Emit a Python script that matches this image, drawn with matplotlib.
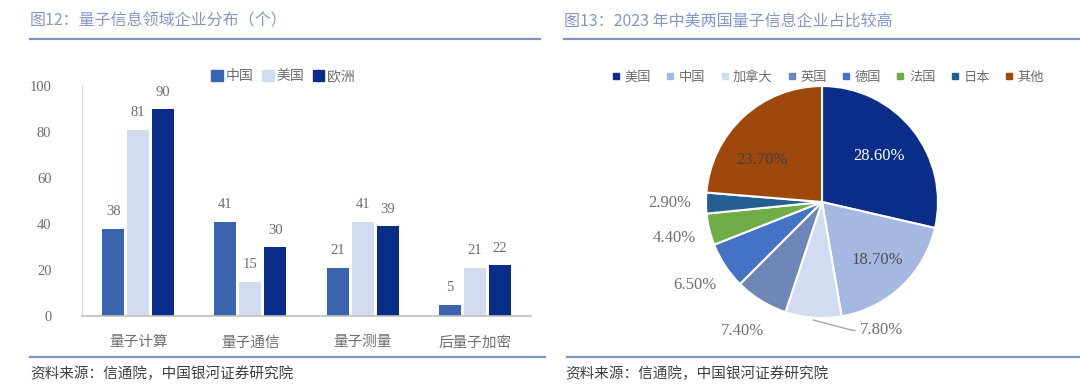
import numpy as np
import matplotlib
matplotlib.use("Agg")
import matplotlib.pyplot as plt
from matplotlib.lines import Line2D
from matplotlib.patches import Patch

plt.rcParams['font.family'] = ['Noto Sans CJK SC', 'DejaVu Sans']

# left chart data
categories = ['量子计算', '量子通信', '量子测量', '后量子加密']
series_names = ['中国', '美国', '欧洲']
china = [38, 41, 21, 5]
usa = [81, 15, 41, 21]
europe = [90, 30, 39, 22]

# right chart data
pie_labels = ['美国', '中国', '加拿大', '英国', '德国', '法国', '日本', '其他']
pie_values = [28.6, 18.7, 7.8, 7.4, 6.5, 4.4, 2.9, 23.7]

W, H = 1080, 388
fig = plt.figure(figsize=(W / 100, H / 100), dpi=100)
fig.patch.set_facecolor('white')


def box(x0, y0, x1, y1):
    return [x0 / W, 1 - y1 / H, (x1 - x0) / W, (y1 - y0) / H]


def fx(x):
    return x / W


def fy(y):
    return 1 - y / H


title_c = '#8497C4'
rule_c = '#7F93BF'
gray = '#6E6E6E'
serif = ['Liberation Serif', 'Noto Sans CJK SC']

# titles, rules and footers
fig.text(fx(30), fy(21), '图12：量子信息领域企业分布（个）', fontsize=11.5, color=title_c, va='center')
fig.text(fx(564), fy(21), '图13：2023 年中美两国量子信息企业占比较高', fontsize=11.5, color=title_c, va='center')
for x0, x1 in [(30, 540), (564, 1080)]:
    fig.add_artist(Line2D([fx(x0), fx(x1)], [fy(39), fy(39)], color=rule_c, lw=1.6))
for x0, x1 in [(30, 545), (567, 1080)]:
    fig.add_artist(Line2D([fx(x0), fx(x1)], [fy(357), fy(357)], color=rule_c, lw=1.6))
fig.text(fx(30), fy(374), '资料来源：信通院，中国银河证券研究院', fontsize=10.5, color='#404040', va='center')
fig.text(fx(565), fy(374), '资料来源：信通院，中国银河证券研究院', fontsize=10.5, color='#404040', va='center')

# ---- bar chart ----
ax = fig.add_axes(box(82, 86, 531, 316))
colors = ['#3A64AE', '#D0DCEF', '#0B2D8A']
x = np.arange(len(categories))
bw = 0.195
offs = [-0.223, 0, 0.223]
for vals, c, o, name in zip([china, usa, europe], colors, offs, series_names):
    bars = ax.bar(x + o, vals, bw, color=c, label=name)
    for b, v in zip(bars, vals):
        ax.text(b.get_x() + b.get_width() / 2, v + 4.5, str(v), ha='center', va='bottom',
                fontsize=10.5, color=gray, family=serif)
ax.set_xlim(-0.5, 3.5)
ax.set_ylim(0, 100)
ax.set_yticks(range(0, 101, 20))
ax.set_yticklabels([str(v) for v in range(0, 101, 20)], family=serif, fontsize=10.5, color=gray)
ax.set_xticks(x)
ax.set_xticklabels(categories, fontsize=10.5, color=gray)
ax.tick_params(axis='both', length=0)
ax.tick_params(axis='y', pad=22)
ax.tick_params(axis='x', pad=14)
for s in ['top', 'right']:
    ax.spines[s].set_visible(False)
ax.spines['left'].set_color('#D9D9D9')
ax.spines['bottom'].set_color('#BFBFBF')
ax.spines['bottom'].set_linewidth(1.2)
handles = [Patch(color=c) for c in colors]
fig.legend(handles, series_names, loc='center', bbox_to_anchor=(fx(283), fy(76)), ncol=3,
           frameon=False, fontsize=10, handlelength=0.85, handleheight=0.85, handletextpad=0.2,
           columnspacing=0.6, labelcolor=gray)

# ---- pie chart ----
pcolors = ['#0B2D8A', '#A4B8E2', '#D0DCEF', '#6E86B8', '#4472C4', '#70AD47', '#255E91', '#9E480E']
R = 116
lim = 1.45
pax = fig.add_axes(box(822 - R * lim, 202 - R * lim, 822 + R * lim, 202 + R * lim))
wedges, _ = pax.pie(pie_values, colors=pcolors, startangle=90, counterclock=False,
                    wedgeprops=dict(edgecolor='white', linewidth=1.5))
pax.set_xlim(-lim, lim)
pax.set_ylim(-lim, lim)
pax.set_aspect('equal')
pax.axis('off')

inside = {0: (0.63, 'white'), 1: (0.69, '#505050'), 7: (0.63, '#404040')}
for i, (w, v) in enumerate(zip(wedges, pie_values)):
    ang = np.deg2rad((w.theta1 + w.theta2) / 2)
    txt = '%.2f%%' % v
    if i in inside:
        d, c = inside[i]
        if i == 7:
            ang = np.deg2rad(145)
        pax.text(d * np.cos(ang), d * np.sin(ang), txt, ha='center', va='center',
                 fontsize=12, color=c, family=serif)
    elif i == 2:
        ex, ey = np.cos(ang), np.sin(ang)
        pax.plot([ex, ex + 0.34, ex + 0.36], [ey - 0.02, ey - 0.11, ey - 0.11], color='#A6A6A6', lw=1)
        pax.text(ex + 0.4, ey - 0.11, txt, ha='left', va='center', fontsize=12, color=gray, family=serif)
    else:
        d = 1.31
        pax.text(d * np.cos(ang), d * np.sin(ang), txt, ha='center', va='center',
                 fontsize=12, color=gray, family=serif)

phandles = [Line2D([], [], marker='s', ls='', color=c, markersize=4.5) for c in pcolors]
fig.legend(phandles, pie_labels, loc='center', bbox_to_anchor=(fx(828), fy(77)), ncol=8,
           frameon=False, fontsize=9.5, handlelength=0.6, handletextpad=0.35,
           columnspacing=1.15, labelcolor=gray)

fig.savefig('out.png', dpi=100)
